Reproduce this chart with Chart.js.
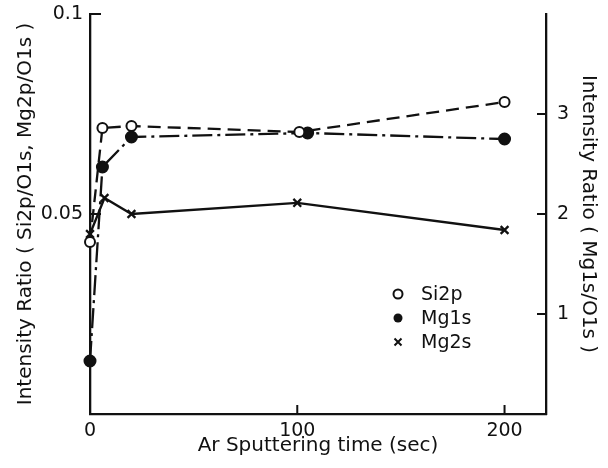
<!DOCTYPE html>
<html>
<head>
<meta charset="utf-8">
<script src="https://cdn.jsdelivr.net/npm/chart.js@4.4.1/dist/chart.umd.min.js"></script>
<style>
  html, body { margin: 0; padding: 0; background: #fff; }
</style>
</head>
<body>
<canvas id="c" width="608" height="468"></canvas>
<script>
// values
const timeSi2p = [0, 6, 20, 101, 200];
const si2p = [0.043, 0.0715, 0.072, 0.0705, 0.078];

const timeMg1s = [0, 6, 20, 105, 200];
const mg1s = [0.53, 2.47, 2.77, 2.81, 2.75];

const timeMg2s = [0, 7, 20, 100, 200];
const mg2s = [0.045, 0.054, 0.050, 0.0528, 0.046];

const xTicks = [0, 100, 200];
const leftTicks = [0.05, 0.1];
const rightTicks = [1, 2, 3];

const INK = "#111";
const FONT = "'DejaVu Sans', sans-serif";

function pts(xs, ys) {
  return xs.map((x, i) => ({ x, y: ys[i] }));
}

function fixedTicks(list) {
  return scale => { scale.ticks = list.map(v => ({ value: v })); };
}

// fix the box sizes so the plot lands where the figure has it
function fitBox(w, h) {
  return s => {
    if (w) s.width = w;
    if (h) s.height = h;
    s.paddingTop = 0; s.paddingBottom = 0;
    s.paddingLeft = 0; s.paddingRight = 0;
  };
}

// ticks in the figure point into the plot, so draw them by hand
const inwardTicks = {
  id: "inwardTicks",
  afterDraw(chart) {
    const { ctx, chartArea: a, scales } = chart;
    const len = 9;
    ctx.save();
    ctx.strokeStyle = INK;
    ctx.lineWidth = 2;
    ctx.beginPath();
    xTicks.forEach(v => {
      const px = scales.x.getPixelForValue(v);
      ctx.moveTo(px, a.bottom);
      ctx.lineTo(px, a.bottom - len);
    });
    leftTicks.forEach(v => {
      const py = scales.yL.getPixelForValue(v);
      ctx.moveTo(a.left, py);
      ctx.lineTo(a.left + len + 2, py);
    });
    rightTicks.forEach(v => {
      const py = scales.yR.getPixelForValue(v);
      ctx.moveTo(a.right, py);
      ctx.lineTo(a.right - len, py);
    });
    ctx.stroke();
    ctx.restore();
  }
};

// legend sits inside the plot, lower right
const innerLegend = {
  id: "innerLegend",
  afterDraw(chart) {
    const { ctx, chartArea: a } = chart;
    const x0 = a.left + 308;
    const y0 = a.top + 280;
    const gap = 24;
    ctx.save();
    ctx.fillStyle = INK;
    ctx.strokeStyle = INK;
    ctx.font = "19px " + FONT;
    ctx.textBaseline = "middle";
    chart.data.datasets.forEach((ds, i) => {
      const y = y0 + i * gap;
      ctx.lineWidth = 2;
      if (ds.pointStyle === "crossRot") {
        ctx.beginPath();
        ctx.moveTo(x0 - 3.5, y - 3.5); ctx.lineTo(x0 + 3.5, y + 3.5);
        ctx.moveTo(x0 + 3.5, y - 3.5); ctx.lineTo(x0 - 3.5, y + 3.5);
        ctx.stroke();
      } else {
        ctx.beginPath();
        ctx.arc(x0, y, 4.5, 0, Math.PI * 2);
        if (ds.pointBackgroundColor === INK) ctx.fill();
        else ctx.stroke();
      }
      ctx.fillText(ds.label, x0 + 23, y + 1);
    });
    ctx.restore();
  }
};

const base = {
  borderColor: INK,
  borderWidth: 2.3,
  pointBorderColor: INK,
  pointBorderWidth: 2,
  tension: 0,
  clip: false,
};

new Chart(document.getElementById("c"), {
  type: "line",
  data: {
    datasets: [
      { ...base, label: "Si2p", data: pts(timeSi2p, si2p), yAxisID: "yL",
        borderDash: [13, 7], pointStyle: "circle", pointRadius: 5, pointBackgroundColor: "#fff" },
      { ...base, label: "Mg1s", data: pts(timeMg1s, mg1s), yAxisID: "yR",
        borderDash: [20, 5, 3, 5], pointStyle: "circle", pointRadius: 5.5, pointBackgroundColor: INK },
      { ...base, label: "Mg2s", data: pts(timeMg2s, mg2s), yAxisID: "yL",
        pointStyle: "crossRot", pointRadius: 5.5, pointBorderWidth: 2.3, pointBackgroundColor: INK },
    ],
  },
  options: {
    responsive: false,
    animation: false,
    layout: { padding: { top: 14, left: 0, right: 0, bottom: 0 } },
    plugins: { legend: { display: false }, tooltip: { enabled: false } },
    scales: {
      x: {
        type: "linear", min: 0, max: 220,
        afterBuildTicks: fixedTicks(xTicks),
        afterFit: fitBox(0, 54),
        grid: { drawOnChartArea: false, drawTicks: false },
        border: { color: INK, width: 2.3 },
        ticks: { color: INK, font: { family: FONT, size: 19 }, padding: 6 },
        title: { display: true, text: "Ar Sputtering time (sec)", color: INK,
                 font: { family: FONT, size: 20 }, padding: { bottom: 10 } },
      },
      yL: {
        type: "linear", position: "left", min: 0, max: 0.1,
        afterBuildTicks: fixedTicks(leftTicks),
        afterFit: fitBox(90, 0),
        grid: { drawOnChartArea: false, drawTicks: false },
        border: { color: INK, width: 2.3 },
        ticks: { color: INK, font: { family: FONT, size: 19 }, padding: 7,
                 callback: v => String(v) },
        title: { display: true, text: "Intensity Ratio ( Si2p/O1s, Mg2p/O1s )", color: INK,
                 font: { family: FONT, size: 20 }, padding: { top: 14 } },
      },
      yR: {
        type: "linear", position: "right", min: 0, max: 4,
        afterBuildTicks: fixedTicks(rightTicks),
        afterFit: fitBox(62, 0),
        grid: { drawOnChartArea: false, drawTicks: false },
        border: { color: INK, width: 2.3 },
        ticks: { color: INK, font: { family: FONT, size: 19 }, padding: 11 },
        title: { display: true, text: "Intensity Ratio ( Mg1s/O1s )", color: INK,
                 font: { family: FONT, size: 20 }, padding: { top: 8 } },
      },
    },
  },
  plugins: [inwardTicks, innerLegend],
});
</script>
</body>
</html>
